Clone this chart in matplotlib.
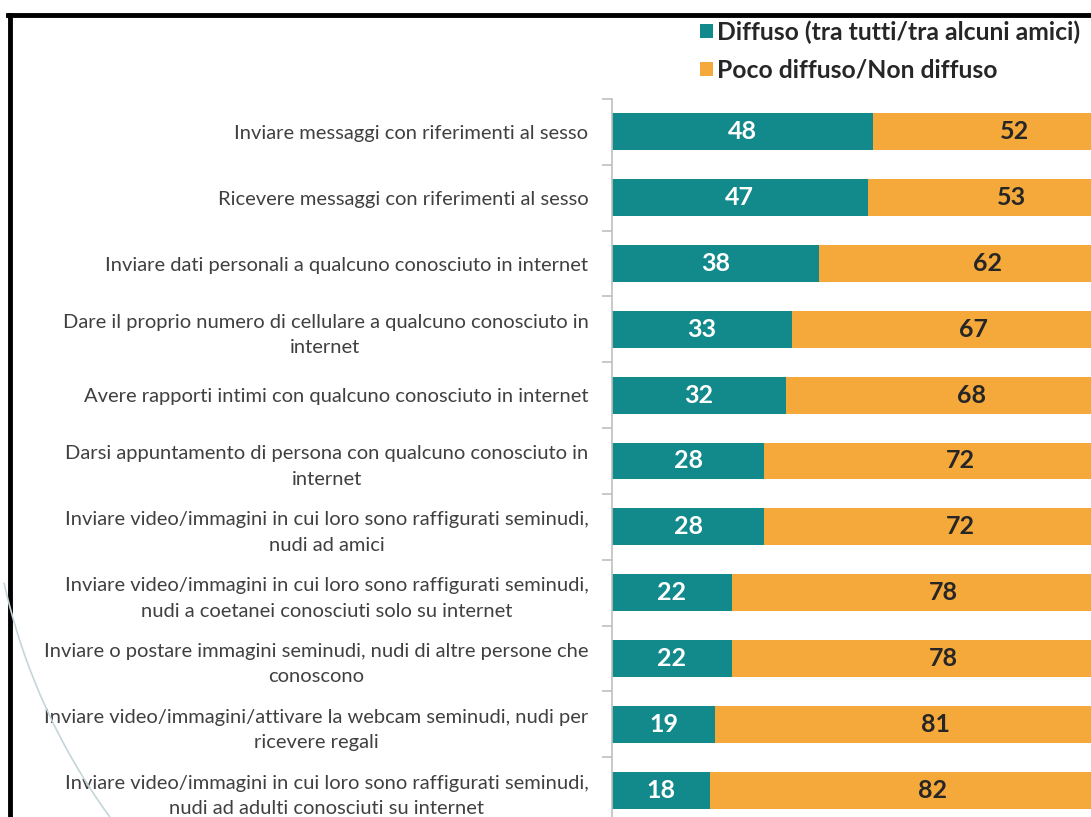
import numpy as np
import matplotlib.pyplot as plt
from matplotlib.lines import Line2D

W, H = 1091, 817
TEAL = "#128A8C"
ORANGE = "#F6A93B"

categories = [
    "Inviare messaggi con riferimenti al sesso",
    "Ricevere messaggi con riferimenti al sesso",
    "Inviare dati personali a qualcuno conosciuto in internet",
    "Dare il proprio numero di cellulare a qualcuno conosciuto in\ninternet",
    "Avere rapporti intimi con qualcuno conosciuto in internet",
    "Darsi appuntamento di persona con qualcuno conosciuto in\ninternet",
    "Inviare video/immagini in cui loro sono raffigurati seminudi,\nnudi ad amici",
    "Inviare video/immagini in cui loro sono raffigurati seminudi,\nnudi a coetanei conosciuti solo su internet",
    "Inviare o postare immagini seminudi, nudi di altre persone che\nconoscono",
    "Inviare video/immagini/attivare la webcam seminudi, nudi per\nricevere regali",
    "Inviare video/immagini in cui loro sono raffigurati seminudi,\nnudi ad adulti conosciuti su internet",
]
diffuso = [48, 47, 38, 33, 32, 28, 28, 22, 22, 19, 18]
non_diffuso = [52, 53, 62, 67, 68, 72, 72, 78, 78, 81, 82]
legend_labels = ["Diffuso (tra tutti/tra alcuni amici)", "Poco diffuso/Non diffuso"]

plt.rcParams['font.family'] = ['Lato', 'DejaVu Sans']

fig = plt.figure(figsize=(W / 100, H / 100), dpi=100)
# axes placed in pixels: x from 612 (0) to 1156 (100), y from 99 to 823
ax = fig.add_axes([612 / W, 1 - 823 / H, 544 / W, 724 / H])

y = np.arange(len(categories))
b1 = ax.barh(y, diffuso, height=0.56, color=TEAL, label=legend_labels[0])
b2 = ax.barh(y, non_diffuso, left=diffuso, height=0.56, color=ORANGE, label=legend_labels[1])

for i in range(len(categories)):
    ax.text(diffuso[i] / 2, y[i], str(diffuso[i]), ha='center', va='center',
            color='white', fontsize=18, fontweight='bold')
    ax.text(diffuso[i] + non_diffuso[i] / 2, y[i], str(non_diffuso[i]), ha='center',
            va='center', color='#262626', fontsize=18, fontweight='bold')

ax.set_xlim(0, 100)
ax.set_ylim(len(categories) - 0.5, -0.5)
ax.set_yticks(y)
ax.set_yticklabels(categories, fontsize=14.5, color='#404040', multialignment='center',
                   linespacing=1.6)
ax.set_yticks(np.arange(len(categories) + 1) - 0.5, minor=True)
ax.tick_params(axis='y', which='major', length=0, pad=17)
ax.tick_params(axis='y', which='minor', length=7, color='#BFBFBF', width=1.2)
ax.set_xticks([])
for s in ['top', 'right', 'bottom']:
    ax.spines[s].set_visible(False)
ax.spines['left'].set_color('#BFBFBF')
ax.spines['left'].set_linewidth(1.2)

fig.legend(handles=[b1, b2], loc='upper left', bbox_to_anchor=(678 / W, 1 + 2 / H),
           frameon=False, prop={'weight': 'bold', 'size': 17.8},
           handlelength=0.5, handleheight=0.5, handletextpad=0.16, labelspacing=0.6,
           labelcolor='#262626')

# black frame on top and left, decorative arc
fig.add_artist(Line2D([8 / W, 1], [1 - 15 / H, 1 - 15 / H], color='black', lw=3.5))
fig.add_artist(Line2D([10 / W, 10 / W], [0, 1 - 15 / H], color='black', lw=3.5))
t = np.linspace(np.pi - 0.22, np.pi - 0.66, 60)
arc_x = (619 + 630 * np.cos(t)) / W
arc_y = 1 - (446 + 630 * np.sin(t)) / H
fig.add_artist(Line2D(arc_x, arc_y, color='#C5D6D9', lw=1.2))

fig.savefig("out.png", dpi=100)
